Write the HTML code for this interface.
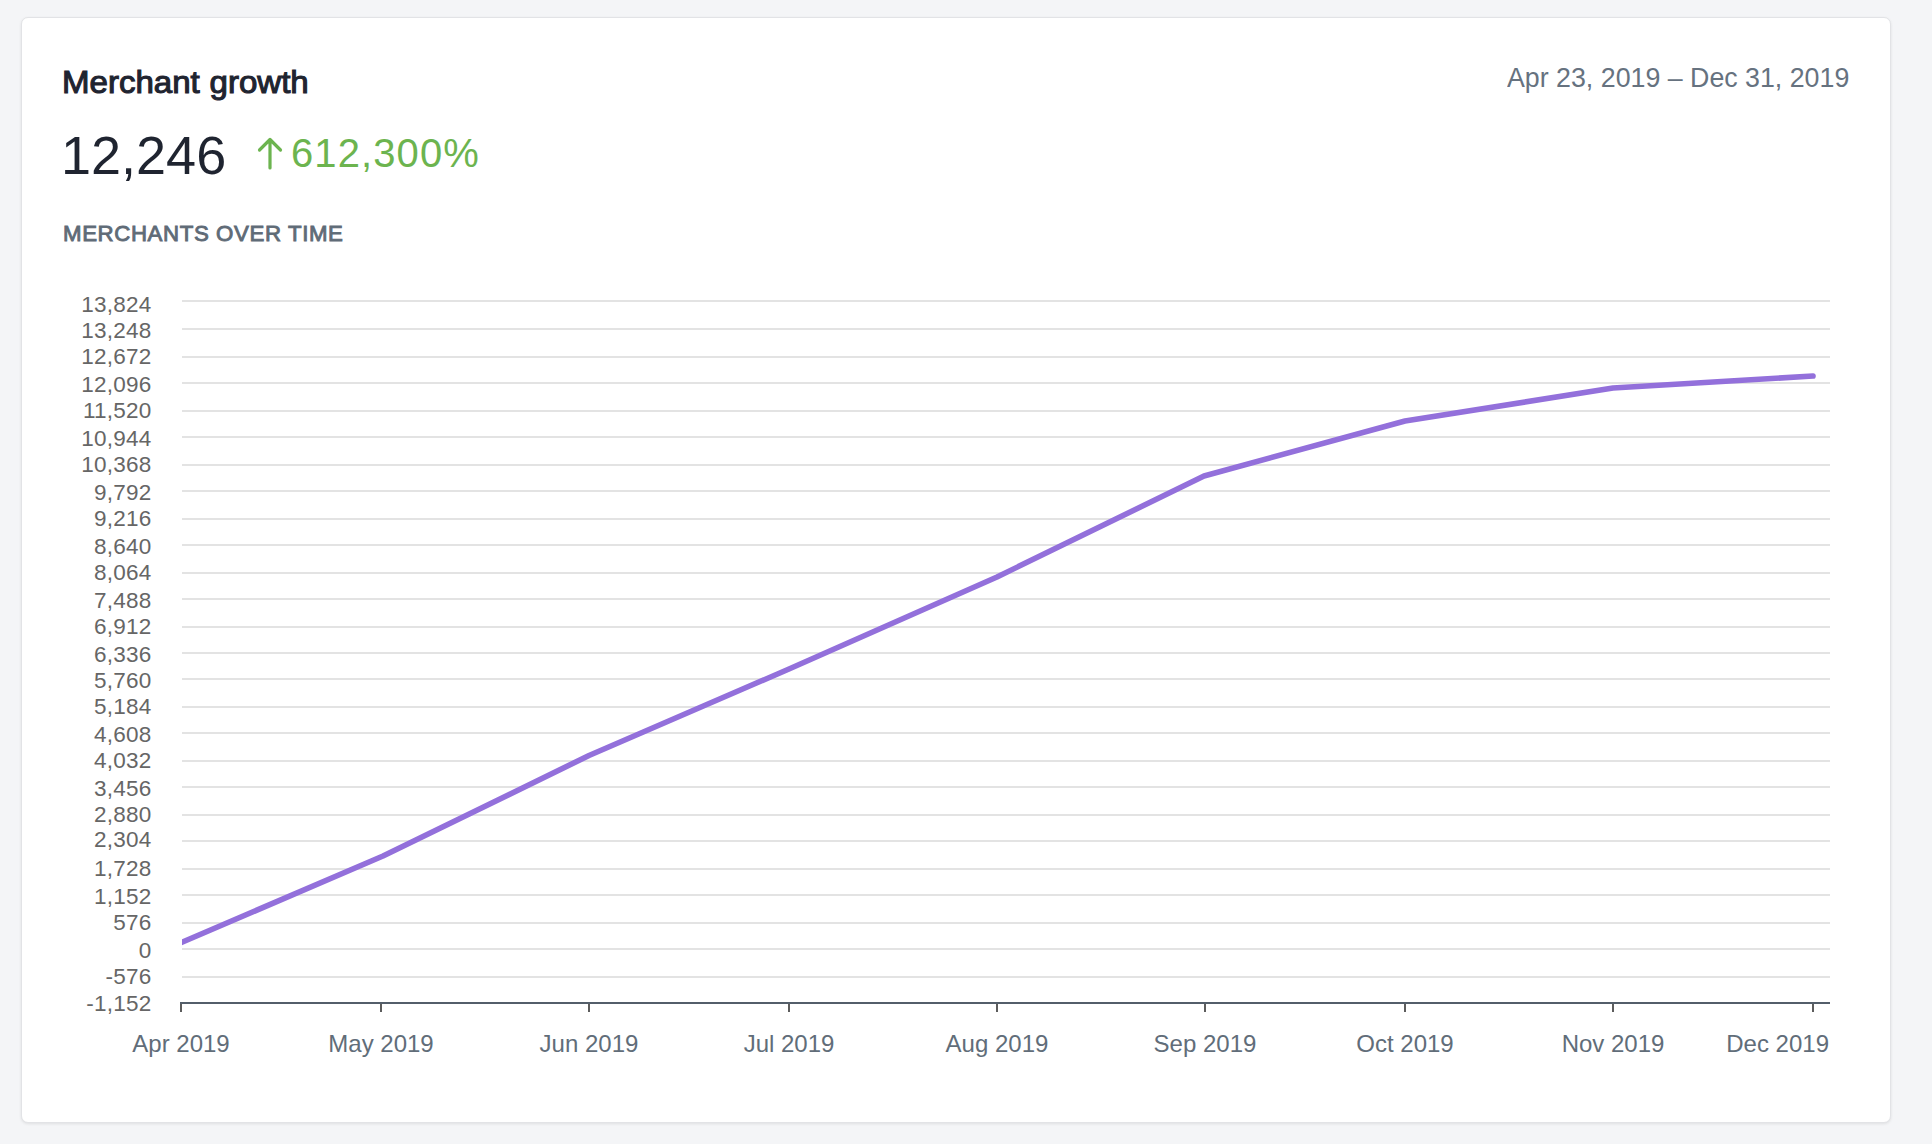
<!DOCTYPE html>
<html><head><meta charset="utf-8"><style>
html,body{margin:0;padding:0;}
body{width:1932px;height:1144px;background:#f4f5f7;position:relative;overflow:hidden;font-family:"Liberation Sans",sans-serif;}
.card{position:absolute;left:21px;top:17px;width:1868px;height:1104px;background:#fff;border:1px solid #e2e3e6;border-radius:7px;box-shadow:0 1px 3px rgba(0,0,0,0.09);}
.t{position:absolute;white-space:nowrap;line-height:1;transform-origin:0 0;}
#title{left:62px;top:66px;font-size:32px;font-weight:normal;-webkit-text-stroke:1.1px #1f2430;color:#1f2430;word-spacing:0.5px;transform:scaleX(1.033);}
#big{left:61px;top:128px;font-size:54px;color:#1f2430;letter-spacing:0px;}
#pct{left:291px;top:133px;font-size:40px;color:#6cb44f;letter-spacing:1.1px;}
#sub{left:63px;top:223px;font-size:22px;color:#5f6b77;font-weight:normal;-webkit-text-stroke:0.9px #5f6b77;letter-spacing:0.6px;transform:scaleX(1.011);}
#date{left:1507px;top:64px;font-size:28px;color:#66727f;transform:scaleX(0.956);}
svg{position:absolute;left:0;top:0;}
.yl{font-size:22.5px;fill:#666;text-anchor:end;letter-spacing:0.25px;font-family:"Liberation Sans",sans-serif;}
.xl{font-size:24px;fill:#616d79;text-anchor:middle;font-family:"Liberation Sans",sans-serif;}
</style></head><body>
<div class="card"></div>
<div class="t" id="title">Merchant growth</div>
<div class="t" id="big">12,246</div>
<svg width="1932" height="1144" viewBox="0 0 1932 1144">
<defs><clipPath id="c"><rect x="182" y="0" width="1700" height="1144"/></clipPath></defs>
<path d="M270,140 V168 M259.5,150 L270,139.5 L280.5,150" fill="none" stroke="#6cb44f" stroke-width="3.2" stroke-linecap="round" stroke-linejoin="round"/>
<rect x="182" y="300" width="1648" height="2" fill="#e3e3e3"/>
<rect x="182" y="328" width="1648" height="2" fill="#e3e3e3"/>
<rect x="182" y="356" width="1648" height="2" fill="#e3e3e3"/>
<rect x="182" y="382" width="1648" height="2" fill="#e3e3e3"/>
<rect x="182" y="410" width="1648" height="2" fill="#e3e3e3"/>
<rect x="182" y="436" width="1648" height="2" fill="#e3e3e3"/>
<rect x="182" y="464" width="1648" height="2" fill="#e3e3e3"/>
<rect x="182" y="490" width="1648" height="2" fill="#e3e3e3"/>
<rect x="182" y="518" width="1648" height="2" fill="#e3e3e3"/>
<rect x="182" y="544" width="1648" height="2" fill="#e3e3e3"/>
<rect x="182" y="572" width="1648" height="2" fill="#e3e3e3"/>
<rect x="182" y="598" width="1648" height="2" fill="#e3e3e3"/>
<rect x="182" y="626" width="1648" height="2" fill="#e3e3e3"/>
<rect x="182" y="652" width="1648" height="2" fill="#e3e3e3"/>
<rect x="182" y="678" width="1648" height="2" fill="#e3e3e3"/>
<rect x="182" y="706" width="1648" height="2" fill="#e3e3e3"/>
<rect x="182" y="732" width="1648" height="2" fill="#e3e3e3"/>
<rect x="182" y="760" width="1648" height="2" fill="#e3e3e3"/>
<rect x="182" y="786" width="1648" height="2" fill="#e3e3e3"/>
<rect x="182" y="814" width="1648" height="2" fill="#e3e3e3"/>
<rect x="182" y="840" width="1648" height="2" fill="#e3e3e3"/>
<rect x="182" y="868" width="1648" height="2" fill="#e3e3e3"/>
<rect x="182" y="894" width="1648" height="2" fill="#e3e3e3"/>
<rect x="182" y="922" width="1648" height="2" fill="#e3e3e3"/>
<rect x="182" y="948" width="1648" height="2" fill="#e3e3e3"/>
<rect x="182" y="976" width="1648" height="2" fill="#e3e3e3"/>
<text x="151.6" y="311.8" class="yl">13,824</text>
<text x="151.6" y="337.9" class="yl">13,248</text>
<text x="151.6" y="363.8" class="yl">12,672</text>
<text x="151.6" y="391.8" class="yl">12,096</text>
<text x="151.6" y="417.9" class="yl">11,520</text>
<text x="151.6" y="445.5" class="yl">10,944</text>
<text x="151.6" y="471.7" class="yl">10,368</text>
<text x="151.6" y="499.8" class="yl">9,792</text>
<text x="151.6" y="525.5" class="yl">9,216</text>
<text x="151.6" y="553.8" class="yl">8,640</text>
<text x="151.6" y="579.8" class="yl">8,064</text>
<text x="151.6" y="607.6" class="yl">7,488</text>
<text x="151.6" y="633.8" class="yl">6,912</text>
<text x="151.6" y="661.7" class="yl">6,336</text>
<text x="151.6" y="687.6" class="yl">5,760</text>
<text x="151.6" y="713.8" class="yl">5,184</text>
<text x="151.6" y="741.7" class="yl">4,608</text>
<text x="151.6" y="767.6" class="yl">4,032</text>
<text x="151.6" y="795.5" class="yl">3,456</text>
<text x="151.6" y="821.7" class="yl">2,880</text>
<text x="151.6" y="847.3" class="yl">2,304</text>
<text x="151.6" y="875.5" class="yl">1,728</text>
<text x="151.6" y="903.5" class="yl">1,152</text>
<text x="151.6" y="929.7" class="yl">576</text>
<text x="151.6" y="957.6" class="yl">0</text>
<text x="151.6" y="983.8" class="yl">-576</text>
<text x="151.6" y="1011.2" class="yl">-1,152</text>
<rect x="180" y="1002" width="1650" height="2" fill="#535e6a"/>
<rect x="180" y="1004" width="2" height="8" fill="#5c5c5c"/>
<text x="181" y="1052" class="xl">Apr 2019</text>
<rect x="380" y="1004" width="2" height="8" fill="#5c5c5c"/>
<text x="381" y="1052" class="xl">May 2019</text>
<rect x="588" y="1004" width="2" height="8" fill="#5c5c5c"/>
<text x="589" y="1052" class="xl">Jun 2019</text>
<rect x="788" y="1004" width="2" height="8" fill="#5c5c5c"/>
<text x="789" y="1052" class="xl">Jul 2019</text>
<rect x="996" y="1004" width="2" height="8" fill="#5c5c5c"/>
<text x="997" y="1052" class="xl">Aug 2019</text>
<rect x="1204" y="1004" width="2" height="8" fill="#5c5c5c"/>
<text x="1205" y="1052" class="xl">Sep 2019</text>
<rect x="1404" y="1004" width="2" height="8" fill="#5c5c5c"/>
<text x="1405" y="1052" class="xl">Oct 2019</text>
<rect x="1612" y="1004" width="2" height="8" fill="#5c5c5c"/>
<text x="1613" y="1052" class="xl">Nov 2019</text>
<rect x="1812" y="1004" width="2" height="8" fill="#5c5c5c"/>
<text x="1829" y="1052" class="xl" text-anchor="end" style="text-anchor:end">Dec 2019</text>
<path d="M182,942.3 L383,856 L589,755.5 L789,669 L997,577 L1204,476 L1405,421 L1613,388 L1813,376" fill="none" stroke="#9370db" stroke-width="5.6" stroke-linejoin="round" stroke-linecap="round" clip-path="url(#c)"/>
</svg>
<div class="t" id="pct">612,300%</div>
<div class="t" id="sub">MERCHANTS OVER TIME</div>
<div class="t" id="date">Apr 23, 2019 – Dec 31, 2019</div>
</body></html>
